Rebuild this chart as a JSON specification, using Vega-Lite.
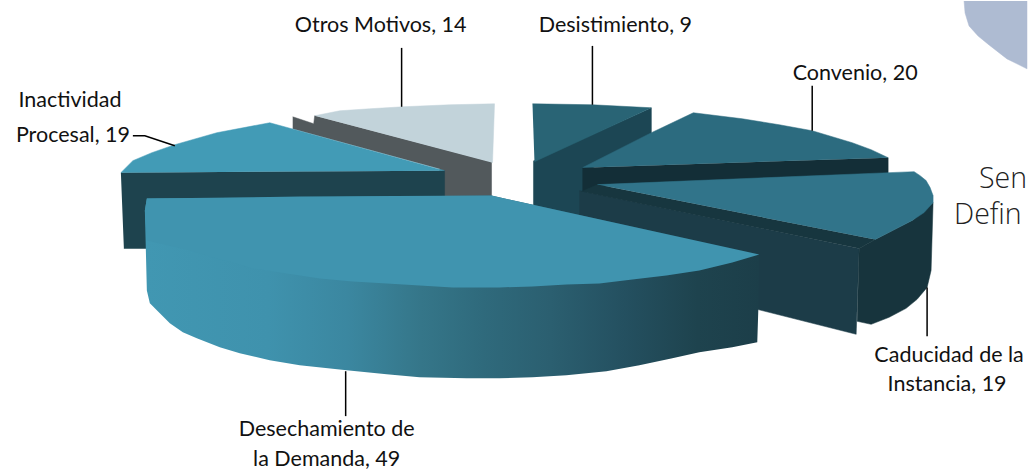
{
"$schema":"https://vega.github.io/schema/vega-lite/v6.json",
"width":1028,"height":472,
"autosize":{"type":"fit","contains":"padding"},
"padding":0,
"background":"white",
"view":{"stroke":null},
"datasets":{
"caras":[
{"part":"fondo","i":1,"x":965,"y":0},{"part":"fondo","i":2,"x":966,"y":12},{"part":"fondo","i":3,"x":970,"y":25},{"part":"fondo","i":4,"x":979,"y":35},{"part":"fondo","i":5,"x":990,"y":44},{"part":"fondo","i":6,"x":1008,"y":58},{"part":"fondo","i":7,"x":1028,"y":68},{"part":"fondo","i":8,"x":1028,"y":0},
{"part":"otros_lado","i":1,"x":293,"y":116},{"part":"otros_lado","i":2,"x":314,"y":123},{"part":"otros_lado","i":3,"x":315,"y":115},{"part":"otros_lado","i":4,"x":492,"y":161},{"part":"otros_lado","i":5,"x":492,"y":200},{"part":"otros_lado","i":6,"x":440,"y":200},{"part":"otros_lado","i":7,"x":440,"y":168},{"part":"otros_lado","i":8,"x":293,"y":128},
{"part":"otros_top","i":1,"x":315,"y":115},{"part":"otros_top","i":2,"x":340,"y":110},{"part":"otros_top","i":3,"x":370,"y":108},{"part":"otros_top","i":4,"x":403,"y":106},{"part":"otros_top","i":5,"x":450,"y":104},{"part":"otros_top","i":6,"x":495,"y":103},{"part":"otros_top","i":7,"x":493,"y":162},
{"part":"inact_lado","i":1,"x":121,"y":172},{"part":"inact_lado","i":2,"x":445,"y":170},{"part":"inact_lado","i":3,"x":445,"y":205},{"part":"inact_lado","i":4,"x":150,"y":205},{"part":"inact_lado","i":5,"x":147,"y":248},{"part":"inact_lado","i":6,"x":124,"y":248},
{"part":"inact_top","i":1,"x":121,"y":172},{"part":"inact_top","i":2,"x":133,"y":160},{"part":"inact_top","i":3,"x":152,"y":152},{"part":"inact_top","i":4,"x":175,"y":144},{"part":"inact_top","i":5,"x":217,"y":132},{"part":"inact_top","i":6,"x":270,"y":122},{"part":"inact_top","i":7,"x":445,"y":170},
{"part":"desis_lado","i":1,"x":652,"y":107},{"part":"desis_lado","i":2,"x":652,"y":135},{"part":"desis_lado","i":3,"x":588,"y":170},{"part":"desis_lado","i":4,"x":586,"y":217},{"part":"desis_lado","i":5,"x":534,"y":207},{"part":"desis_lado","i":6,"x":534,"y":160},
{"part":"desis_top","i":1,"x":533,"y":103},{"part":"desis_top","i":2,"x":593,"y":104},{"part":"desis_top","i":3,"x":652,"y":107},{"part":"desis_top","i":4,"x":535,"y":161},
{"part":"conv_lado","i":1,"x":583,"y":167},{"part":"conv_lado","i":2,"x":889,"y":157},{"part":"conv_lado","i":3,"x":889,"y":175},{"part":"conv_lado","i":4,"x":598,"y":186},{"part":"conv_lado","i":5,"x":583,"y":192},
{"part":"conv_top","i":1,"x":583,"y":167},{"part":"conv_top","i":2,"x":652,"y":132},{"part":"conv_top","i":3,"x":694,"y":112},{"part":"conv_top","i":4,"x":743,"y":118},{"part":"conv_top","i":5,"x":780,"y":124},{"part":"conv_top","i":6,"x":813,"y":130},{"part":"conv_top","i":7,"x":853,"y":142},{"part":"conv_top","i":8,"x":872,"y":149},{"part":"conv_top","i":9,"x":889,"y":157},
{"part":"cad_lado","i":1,"x":580,"y":190},{"part":"cad_lado","i":2,"x":860,"y":248},{"part":"cad_lado","i":3,"x":857,"y":334},{"part":"cad_lado","i":4,"x":750,"y":307},{"part":"cad_lado","i":5,"x":580,"y":260},
{"part":"cad_borde","i":1,"x":934,"y":202},{"part":"cad_borde","i":2,"x":932,"y":270},{"part":"cad_borde","i":3,"x":928,"y":287},{"part":"cad_borde","i":4,"x":918,"y":299},{"part":"cad_borde","i":5,"x":907,"y":308},{"part":"cad_borde","i":6,"x":890,"y":317},{"part":"cad_borde","i":7,"x":872,"y":324},{"part":"cad_borde","i":8,"x":858,"y":321},{"part":"cad_borde","i":9,"x":860,"y":248},{"part":"cad_borde","i":10,"x":876,"y":239},{"part":"cad_borde","i":11,"x":913,"y":220},
{"part":"cad_filo","i":1,"x":582,"y":191},{"part":"cad_filo","i":2,"x":598,"y":184},{"part":"cad_filo","i":3,"x":876,"y":239},{"part":"cad_filo","i":4,"x":860,"y":248},
{"part":"cad_top","i":1,"x":598,"y":184},{"part":"cad_top","i":2,"x":915,"y":171},{"part":"cad_top","i":3,"x":921,"y":175},{"part":"cad_top","i":4,"x":927,"y":180},{"part":"cad_top","i":5,"x":931,"y":187},{"part":"cad_top","i":6,"x":934,"y":195},{"part":"cad_top","i":7,"x":934,"y":202},{"part":"cad_top","i":8,"x":925,"y":212},{"part":"cad_top","i":9,"x":913,"y":220},{"part":"cad_top","i":10,"x":876,"y":239}
],
"desechamiento_lado":[
{"i":1,"x":147,"y":198},{"i":2,"x":145,"y":210},{"i":3,"x":147,"y":290},{"i":4,"x":150,"y":303},{"i":5,"x":160,"y":313},{"i":6,"x":170,"y":323},{"i":7,"x":183,"y":332},{"i":8,"x":197,"y":338},{"i":9,"x":220,"y":347},{"i":10,"x":240,"y":353},{"i":11,"x":270,"y":360},{"i":12,"x":300,"y":365},{"i":13,"x":347,"y":370},{"i":14,"x":387,"y":374},{"i":15,"x":420,"y":377},{"i":16,"x":467,"y":378},{"i":17,"x":500,"y":378},{"i":18,"x":533,"y":377},{"i":19,"x":567,"y":375},{"i":20,"x":607,"y":371},{"i":21,"x":640,"y":365},{"i":22,"x":673,"y":358},{"i":23,"x":700,"y":352},{"i":24,"x":733,"y":347},{"i":25,"x":758,"y":342},{"i":26,"x":759,"y":311},{"i":27,"x":760,"y":254},{"i":28,"x":492,"y":195}
],
"desechamiento_top":[
{"i":1,"x":147,"y":198},{"i":2,"x":300,"y":196},{"i":3,"x":492,"y":195},{"i":4,"x":760,"y":254},{"i":5,"x":733,"y":262},{"i":6,"x":700,"y":270},{"i":7,"x":667,"y":275},{"i":8,"x":633,"y":279},{"i":9,"x":600,"y":283},{"i":10,"x":567,"y":284},{"i":11,"x":533,"y":286},{"i":12,"x":500,"y":287},{"i":13,"x":453,"y":287},{"i":14,"x":420,"y":285},{"i":15,"x":387,"y":283},{"i":16,"x":353,"y":281},{"i":17,"x":320,"y":278},{"i":18,"x":287,"y":273},{"i":19,"x":253,"y":268},{"i":20,"x":233,"y":262},{"i":21,"x":213,"y":257},{"i":22,"x":190,"y":250},{"i":23,"x":147,"y":240},{"i":24,"x":145,"y":210}
],
"guias":[
{"g":"otros","i":1,"x":402,"y":47},{"g":"otros","i":2,"x":402,"y":106},
{"g":"desis","i":1,"x":593,"y":45},{"g":"desis","i":2,"x":593,"y":104},
{"g":"conv","i":1,"x":813,"y":85},{"g":"conv","i":2,"x":813,"y":130},
{"g":"inact","i":1,"x":133,"y":135},{"g":"inact","i":2,"x":145,"y":135},{"g":"inact","i":3,"x":175,"y":145},
{"g":"cad","i":1,"x":928,"y":287},{"g":"cad","i":2,"x":928,"y":336},
{"g":"desech","i":1,"x":346,"y":371},{"g":"desech","i":2,"x":346,"y":416}
],
"etiquetas":[
{"t":"Otros Motivos,  14","x":381,"y":25},
{"t":"Desistimiento, 9","x":616,"y":25},
{"t":"Convenio, 20","x":856,"y":73},
{"t":"Inactividad","x":70,"y":100},
{"t":"Procesal, 19","x":73,"y":135},
{"t":"Caducidad de la","x":950,"y":356},
{"t":"Instancia, 19","x":948,"y":385},
{"t":"Desechamiento de","x":327,"y":430},
{"t":"la Demanda,  49","x":327,"y":460}
],
"cortado":[
{"t":"Sen","x":980,"y":178},
{"t":"Defin","x":955,"y":214}
]
},
"encoding":{
"x":{"field":"x","type":"quantitative","scale":{"domain":[0,1028],"nice":false,"zero":false},"axis":null},
"y":{"field":"y","type":"quantitative","scale":{"domain":[472,0],"nice":false,"zero":false},"axis":null}
},
"layer":[
{"data":{"name":"caras"},"mark":{"type":"line","strokeWidth":0.5,"interpolate":"linear"},
"encoding":{"order":{"field":"i","type":"quantitative"},
"fill":{"field":"part","type":"nominal","legend":null,"sort":null,"scale":{
"domain":["fondo","otros_lado","otros_top","inact_lado","inact_top","desis_lado","desis_top","conv_lado","conv_top","cad_lado","cad_borde","cad_filo","cad_top"],
"range":["#AEBBD2","#52595C","#C2D3DA","#1E434E","#429BB6","#1C4654","#296475","#132E37","#2C6B7F","#1C3C48","#17343D","#17363F","#31748A"]}},
"stroke":{"field":"part","type":"nominal","legend":null,"sort":null,"scale":{
"domain":["fondo","otros_lado","otros_top","inact_lado","inact_top","desis_lado","desis_top","conv_lado","conv_top","cad_lado","cad_borde","cad_filo","cad_top"],
"range":["#AEBBD2","#52595C","#C2D3DA","#1E434E","#429BB6","#1C4654","#296475","#132E37","#2C6B7F","#1C3C48","#17343D","#17363F","#31748A"]}}}},
{"data":{"name":"desechamiento_lado"},"mark":{"type":"line","strokeWidth":0,"fill":{"gradient":"linear","x1":0,"x2":1,"y1":0,"y2":0,"stops":[{"offset":0,"color":"#4197B2"},{"offset":0.2,"color":"#3F92AD"},{"offset":0.33,"color":"#3B87A0"},{"offset":0.45,"color":"#357689"},{"offset":0.55,"color":"#2F6A7C"},{"offset":0.66,"color":"#2B5F70"},{"offset":0.78,"color":"#245060"},{"offset":0.9,"color":"#1E434E"},{"offset":1,"color":"#1C3E49"}]}},
"encoding":{"order":{"field":"i","type":"quantitative"}}},
{"data":{"name":"desechamiento_top"},"mark":{"type":"line","strokeWidth":0,"fill":"#4094AF"},
"encoding":{"order":{"field":"i","type":"quantitative"}}},
{"data":{"name":"guias"},"mark":{"type":"line","color":"#000000","strokeWidth":1.5},
"encoding":{"order":{"field":"i","type":"quantitative"},"detail":{"field":"g"}}},
{"data":{"name":"etiquetas"},"mark":{"type":"text","font":"Lato","fontSize":21.5,"align":"center","baseline":"middle","color":"#111111"},
"encoding":{"text":{"field":"t"}}},
{"data":{"name":"cortado"},"mark":{"type":"text","font":"Open Sans","fontWeight":300,"fontSize":28.5,"align":"left","baseline":"middle","color":"#222222"},
"encoding":{"text":{"field":"t"}}}
]
}
